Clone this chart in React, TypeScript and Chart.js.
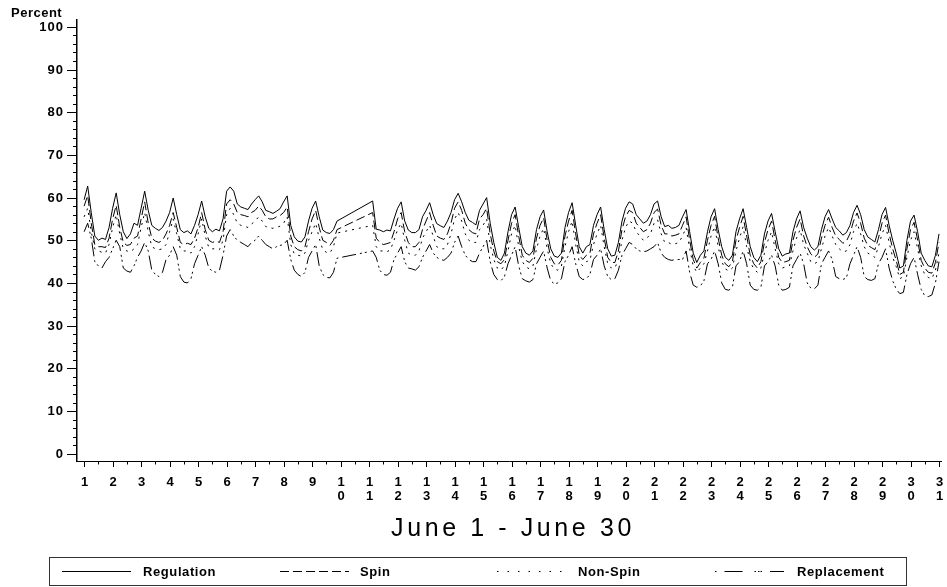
import React, { useEffect, useRef } from 'react';
import { Chart, registerables } from 'chart.js';

Chart.register(...registerables);

// ---------- data (3-hour readings, 8 per day, June 1 00:00 .. July 1 00:00) ----------
const SERIES_NAMES = ['Regulation', 'Spin', 'Non-Spin', 'Replacement'];
const DAY_LABELS = ['1','2','3','4','5','6','7','8','9','10','11','12','13','14','15','16','17','18','19','20','21','22','23','24','25','26','27','28','29','30','31'];
const Y_TICK_VALUES = [0, 10, 20, 30, 40, 50, 60, 70, 80, 90, 100];
const Y_TICK_LABELS = ['0', '10', '20', '30', '40', '50', '60', '70', '80', '90', '100'];
const Y_LABEL = 'Percent';
const X_TITLE = 'June 1 - June 30';
const HOURS_PER_READING = 3;

const regulation = [
  59.5, 62.7, 56.5, 51.0, 50.0, 50.5, 50.2, 53.0,
  57.5, 61.1, 56.0, 52.0, 50.4, 51.5, 54.0, 53.5,
  57.5, 61.5, 57.0, 53.5, 52.8, 52.3, 53.0, 54.5,
  56.5, 59.9, 56.0, 52.5, 51.8, 52.2, 51.5, 53.5,
  56.0, 59.2, 55.5, 52.8, 52.0, 52.6, 52.2, 55.0,
  61.5, 62.5, 61.5, 58.5, 57.8, 57.5, 57.2, 58.5,
  59.5, 60.4, 59.0, 57.0, 56.7, 56.3, 56.8, 57.4,
  59.0, 60.4, 53.5, 50.8, 49.8, 49.6, 50.8, 54.5,
  57.5, 59.2, 55.5, 52.4, 51.8, 51.6, 52.5, 54.5,
  null, null, null, null, null, null, null, null,
  null, 59.2, 52.6, 52.4, 52.0, 52.4, 52.2, 55.0,
  57.5, 59.0, 54.5, 52.4, 51.8, 51.8, 52.5, 55.5,
  57.0, 58.8, 56.0, 53.9, 53.4, 53.0, 54.5, 56.5,
  59.5, 61.0, 59.0, 56.5, 54.7, 54.2, 53.6, 57.0,
  58.5, 60.0, 54.0, 49.5, 46.0, 45.3, 47.0, 52.0,
  56.0, 57.8, 53.0, 48.5, 47.0, 46.5, 47.5, 52.5,
  55.5, 57.1, 52.0, 48.0, 46.3, 46.0, 47.0, 53.0,
  56.5, 58.8, 53.5, 48.5, 47.0, 48.5, 49.0, 53.5,
  56.0, 57.8, 52.5, 48.0, 46.3, 46.5, 49.5, 54.5,
  57.5, 59.0, 58.5, 56.0, 55.0, 54.0, 54.5, 56.0,
  58.5, 59.2, 55.5, 53.2, 53.5, 52.8, 53.0, 53.5,
  55.5, 57.2, 52.0, 47.0, 44.8, 46.5, 47.5, 52.0,
  55.5, 57.4, 52.5, 48.5, 46.0, 45.3, 46.5, 52.0,
  55.0, 57.4, 53.0, 48.5, 46.0, 45.0, 46.5, 51.5,
  54.5, 56.3, 52.0, 48.0, 46.3, 46.8, 47.0, 52.0,
  55.0, 56.9, 53.0, 50.5, 48.5, 47.7, 48.5, 52.5,
  55.5, 57.2, 55.0, 53.0, 52.2, 51.2, 51.8, 53.5,
  56.5, 58.2, 56.0, 52.5, 50.8, 50.2, 49.6, 52.5,
  56.0, 57.7, 53.5, 50.0, 47.0, 43.5, 44.0, 50.0,
  54.5, 55.9, 52.0, 47.0, 45.3, 44.0, 43.8, 46.5,
  51.5,
];

const spin = [
  58.0, 60.5, 54.0, 49.0, 48.5, 48.5, 48.3, 50.5,
  55.0, 58.2, 53.0, 49.5, 48.8, 49.0, 50.5, 51.0,
  55.0, 59.0, 54.0, 50.5, 49.8, 49.5, 50.0, 51.5,
  53.5, 56.5, 53.0, 49.5, 49.0, 49.3, 49.0, 50.5,
  53.0, 56.5, 52.5, 50.0, 49.5, 49.8, 49.5, 52.0,
  58.5, 59.5, 58.5, 56.5, 56.0, 55.8, 55.5, 56.5,
  57.0, 58.0, 57.0, 55.5, 55.0, 55.0, 55.5, 55.8,
  56.5, 57.8, 51.0, 48.5, 47.8, 47.5, 48.5, 52.0,
  55.0, 57.0, 53.0, 50.0, 49.5, 48.8, 50.0, 52.5,
  null, null, null, null, null, null, null, null,
  null, 56.5, 50.5, 49.5, 49.0, 49.2, 49.5, 52.0,
  55.0, 56.5, 52.0, 49.5, 48.5, 48.5, 49.5, 52.5,
  54.5, 56.5, 53.5, 51.0, 50.5, 50.2, 51.5, 54.0,
  57.5, 59.0, 57.0, 54.0, 52.5, 51.8, 51.5, 55.0,
  56.0, 57.5, 51.5, 47.5, 45.0, 44.5, 45.5, 50.0,
  54.0, 56.0, 51.0, 46.5, 45.3, 44.8, 45.8, 50.5,
  53.5, 55.3, 50.0, 46.0, 44.5, 44.2, 45.3, 51.0,
  54.5, 57.0, 51.5, 46.5, 45.5, 46.5, 47.0, 51.5,
  54.0, 56.0, 50.5, 46.0, 44.8, 44.8, 47.5, 52.5,
  55.5, 57.0, 56.5, 54.0, 53.0, 52.0, 52.5, 54.0,
  56.5, 57.3, 53.5, 51.5, 51.5, 51.0, 51.2, 51.5,
  53.5, 55.5, 50.0, 45.5, 43.5, 44.8, 45.8, 50.0,
  53.5, 55.6, 50.5, 46.5, 44.5, 43.8, 45.0, 50.0,
  53.0, 55.6, 51.0, 46.5, 44.5, 43.5, 45.0, 49.5,
  52.5, 54.5, 50.0, 46.0, 44.8, 45.0, 45.3, 50.0,
  53.0, 55.0, 51.0, 48.5, 46.8, 46.0, 46.8, 50.5,
  53.5, 55.4, 53.0, 51.0, 50.2, 49.3, 49.8, 51.5,
  54.5, 56.4, 54.0, 50.5, 48.8, 48.3, 47.8, 50.5,
  54.0, 55.9, 51.5, 48.0, 45.2, 42.0, 42.5, 48.0,
  52.5, 54.2, 50.0, 45.3, 43.5, 42.5, 42.3, 44.8,
  49.5,
];

const nonSpin = [
  55.5, 57.5, 52.0, 48.0, 47.5, 47.2, 47.0, 49.0,
  53.0, 56.0, 51.5, 48.0, 47.5, 47.3, 48.0, 49.0,
  53.0, 56.5, 52.0, 48.5, 48.0, 47.8, 48.0, 49.0,
  52.0, 55.0, 51.5, 48.0, 47.5, 47.5, 47.0, 48.5,
  51.5, 55.0, 51.0, 48.3, 48.0, 48.0, 47.8, 50.0,
  56.0, 57.5, 56.0, 54.0, 53.5, 53.3, 53.0, 53.8,
  54.5, 55.5, 54.5, 53.2, 53.0, 52.8, 53.0, 53.3,
  54.0, 55.5, 49.0, 46.8, 46.5, 46.3, 47.0, 50.0,
  52.0, 54.0, 50.5, 47.8, 47.2, 47.0, 48.5, 51.7,
  null, null, null, null, null, null, null, null,
  null, 53.5, 48.5, 47.5, 47.5, 47.3, 47.8, 50.0,
  52.5, 54.0, 50.0, 47.0, 46.5, 46.5, 47.5, 50.5,
  52.0, 53.5, 51.0, 48.5, 48.0, 48.0, 49.0, 51.5,
  55.0, 56.5, 54.5, 51.5, 50.0, 49.5, 49.5, 52.5,
  53.5, 55.0, 49.0, 45.5, 43.5, 43.0, 44.0, 47.5,
  51.5, 53.5, 48.5, 45.0, 43.8, 43.3, 44.0, 48.0,
  51.0, 52.8, 48.0, 44.5, 43.3, 43.0, 44.0, 48.5,
  52.0, 54.5, 49.0, 45.0, 44.0, 45.0, 45.3, 49.0,
  51.5, 53.5, 48.5, 44.5, 43.5, 43.5, 45.5, 50.0,
  53.0, 54.5, 54.0, 52.0, 51.0, 50.0, 50.5, 51.5,
  54.0, 54.8, 51.5, 49.5, 49.5, 49.0, 49.2, 49.5,
  51.0, 53.0, 48.0, 44.0, 42.5, 43.5, 44.5, 47.5,
  51.0, 53.2, 48.5, 45.0, 43.3, 42.8, 43.5, 47.5,
  50.5, 53.2, 48.5, 45.0, 43.3, 42.5, 43.5, 47.0,
  50.0, 52.0, 48.0, 44.5, 43.5, 43.8, 44.0, 47.5,
  50.5, 52.5, 49.0, 47.0, 45.0, 44.5, 45.0, 48.0,
  51.0, 53.0, 51.0, 49.0, 48.0, 47.3, 47.5, 49.0,
  52.0, 54.0, 51.5, 48.5, 47.0, 46.5, 46.0, 48.5,
  51.5, 53.5, 49.5, 46.0, 43.8, 41.0, 41.5, 46.0,
  50.0, 52.0, 48.0, 44.0, 42.0, 41.3, 41.0, 43.0,
  47.0,
];

const replacement = [
  52.0, 54.0, 50.5, 45.0, 44.0, 43.5, 45.0, 46.0,
  48.0, 50.0, 48.5, 43.5, 42.8, 42.5, 44.0, 46.0,
  47.5, 49.5, 47.5, 43.0, 42.0, 41.5, 42.5, 45.5,
  46.5, 48.5, 46.5, 41.5, 40.2, 40.0, 41.0, 44.5,
  46.5, 48.5, 46.5, 43.5, 42.8, 42.5, 43.0, 46.5,
  51.0, 52.5, 51.0, 50.0, 49.5, 49.0, 48.5, 49.5,
  50.0, 51.0, 50.0, 49.0, 48.5, 48.0, 48.5, 48.8,
  49.0, 50.0, 45.5, 43.0, 42.0, 41.5, 42.5, 46.0,
  47.5, 49.0, 44.0, 42.0, 41.3, 41.2, 42.5, 45.8,
  null, null, null, null, null, null, null, null,
  null, 47.5, 46.0, 43.0, 42.0, 41.8, 42.5, 45.5,
  47.0, 48.5, 45.0, 43.5, 43.3, 43.0, 43.8, 46.0,
  47.5, 49.0, 47.0, 46.0, 45.5, 45.3, 46.0, 47.0,
  49.5, 51.0, 48.5, 46.5, 45.5, 45.0, 45.0, 47.0,
  48.5, 50.0, 45.0, 42.0, 40.8, 40.5, 41.5, 44.5,
  46.5, 48.5, 44.0, 41.0, 40.5, 40.2, 40.8, 44.5,
  46.0, 47.5, 43.5, 40.5, 39.8, 40.0, 41.0, 45.0,
  46.5, 48.5, 44.5, 41.5, 40.8, 41.0, 42.0, 45.5,
  46.5, 48.0, 44.0, 41.5, 40.8, 41.0, 43.0, 46.5,
  48.0, 49.5, 49.0, 48.0, 47.5, 47.3, 47.5, 48.0,
  48.5, 49.5, 47.0, 46.0, 45.5, 45.3, 45.5, 45.5,
  45.5, 47.5, 42.5, 39.5, 39.0, 39.3, 40.5, 44.5,
  45.5, 47.5, 44.5, 40.0, 38.5, 38.3, 39.0, 44.0,
  45.0, 47.5, 44.5, 39.5, 38.5, 38.3, 39.0, 44.0,
  45.0, 46.5, 44.0, 39.5, 38.3, 38.5, 39.0, 44.0,
  45.5, 47.0, 44.5, 40.0, 38.8, 38.6, 39.5, 44.5,
  46.0, 47.5, 45.5, 41.5, 41.0, 40.8, 41.2, 44.5,
  46.5, 48.5, 46.0, 41.5, 40.8, 40.6, 41.0, 44.5,
  46.0, 48.0, 43.5, 40.5, 38.5, 37.5, 37.8, 42.0,
  44.5, 46.0, 42.0, 38.5, 37.0, 36.8, 37.2, 40.0,
  45.0,
];

const SERIES_VALUES = [regulation, spin, nonSpin, replacement];
const SERIES_DASHES: number[][] = [[], [9, 4], [2, 5], [14, 4, 2, 3, 2, 4]];
const LEGEND_DASHES: number[][] = [[], [9, 4], [1.5, 9], [1.5, 8, 18, 12, 1.5, 2, 1.5, 1]];

const toPoints = (arr: (number | null)[]) =>
  arr.map((v, i) => ({ x: (i * HOURS_PER_READING) / 24, y: v }));

const TICK_FONT = 'bold 13px "Liberation Sans", Arial, sans-serif';

const decorPlugin = {
  id: 'decor',
  afterDraw(chart: any) {
    const { ctx, chartArea } = chart;
    const xs = chart.scales.x;
    const ys = chart.scales.y;
    const left = chartArea.left;
    const bottom = chartArea.bottom;
    ctx.save();
    ctx.strokeStyle = '#000';
    ctx.fillStyle = '#000';
    ctx.lineWidth = 1;
    ctx.setLineDash([]);

    // y ticks (major every 10, minor every 2)
    for (let v = 0; v <= 100; v += 2) {
      const y = Math.round(ys.getPixelForValue(v)) + 0.5;
      const major = v % 10 === 0;
      ctx.beginPath();
      ctx.moveTo(left - (major ? 10 : 4), y);
      ctx.lineTo(left, y);
      ctx.stroke();
    }
    ctx.font = TICK_FONT;
    (ctx as any).letterSpacing = '1px';
    ctx.textAlign = 'right';
    ctx.textBaseline = 'middle';
    Y_TICK_VALUES.forEach((v, i) => {
      const y = ys.getPixelForValue(v);
      ctx.fillText(Y_TICK_LABELS[i], left - 13, y + 0.5);
    });

    // "Percent"
    ctx.font = 'bold 13px "Liberation Sans", Arial, sans-serif';
    (ctx as any).letterSpacing = '0.5px';
    ctx.textAlign = 'left';
    ctx.fillText(Y_LABEL, 11, 13);

    // x ticks
    DAY_LABELS.forEach((lab, i) => {
      const x = Math.round(xs.getPixelForValue(i)) + 0.5;
      ctx.beginPath();
      ctx.moveTo(x, bottom);
      ctx.lineTo(x, bottom + 6);
      ctx.stroke();
      if (i < DAY_LABELS.length - 1) {
        const xm = Math.round(xs.getPixelForValue(i + 0.5)) + 0.5;
        ctx.beginPath();
        ctx.moveTo(xm, bottom);
        ctx.lineTo(xm, bottom + 3.5);
        ctx.stroke();
      }
    });
    ctx.font = TICK_FONT;
    (ctx as any).letterSpacing = '0px';
    ctx.textAlign = 'center';
    DAY_LABELS.forEach((lab, i) => {
      const x = xs.getPixelForValue(i);
      lab.split('').forEach((ch, j) => {
        ctx.fillText(ch, x + 0.5, bottom + 21 + j * 14);
      });
    });

    // axis title
    ctx.font = '25px "Liberation Sans", Arial, sans-serif';
    (ctx as any).letterSpacing = '3.6px';
    ctx.textAlign = 'center';
    ctx.fillText(X_TITLE, (chartArea.left + chartArea.right) / 2 + 4, 529);

    // legend
    (ctx as any).letterSpacing = '0.6px';
    ctx.lineWidth = 1;
    ctx.strokeStyle = '#333';
    ctx.strokeRect(49.5, 557.5, 857, 28);
    const lineStarts = [62, 280, 497, 715];
    const textStarts = [143, 360, 578, 797];
    const ly = 571.5;
    ctx.font = TICK_FONT;
    ctx.textAlign = 'left';
    SERIES_NAMES.forEach((name, i) => {
      ctx.strokeStyle = '#000';
      ctx.setLineDash(LEGEND_DASHES[i]);
      ctx.beginPath();
      ctx.moveTo(lineStarts[i], ly);
      ctx.lineTo(lineStarts[i] + 69, ly);
      ctx.stroke();
      ctx.setLineDash([]);
      ctx.fillText(name, textStarts[i], ly + 1);
    });
    ctx.restore();
  },
};

export default function App() {
  const ref = useRef<HTMLCanvasElement | null>(null);
  useEffect(() => {
    if (!ref.current) return;
    const chart = new Chart(ref.current, {
      type: 'line',
      data: {
        datasets: SERIES_NAMES.map((name, i) => ({
          label: name,
          data: toPoints(SERIES_VALUES[i]) as any,
          borderColor: '#000',
          borderWidth: 1,
          borderDash: SERIES_DASHES[i],
          pointRadius: 0,
          spanGaps: true,
          tension: 0,
          fill: false,
        })),
      },
      options: {
        animation: false,
        responsive: false,
        devicePixelRatio: 1,
        events: [],
        layout: { padding: { left: 77, right: 6, top: 20, bottom: 126 } },
        plugins: {
          legend: { display: false },
          tooltip: { enabled: false },
          title: { display: false },
        },
        scales: {
          x: {
            type: 'linear',
            min: -0.25,
            max: 30.07,
            ticks: { display: false },
            grid: { display: false, drawTicks: false },
            border: { display: true, color: '#000', width: 1 },
          },
          y: {
            type: 'linear',
            min: -1.7,
            max: 101.6,
            ticks: { display: false },
            grid: { display: false, drawTicks: false },
            border: { display: true, color: '#000', width: 1.5 },
          },
        },
      },
      plugins: [decorPlugin],
    });
    return () => chart.destroy();
  }, []);
  return (
    <div style={{ position: 'absolute', left: 0, top: 0, width: 947, height: 587, background: '#fff' }}>
      <canvas ref={ref} width={947} height={587} style={{ display: 'block', width: 947, height: 587 }} />
    </div>
  );
}
